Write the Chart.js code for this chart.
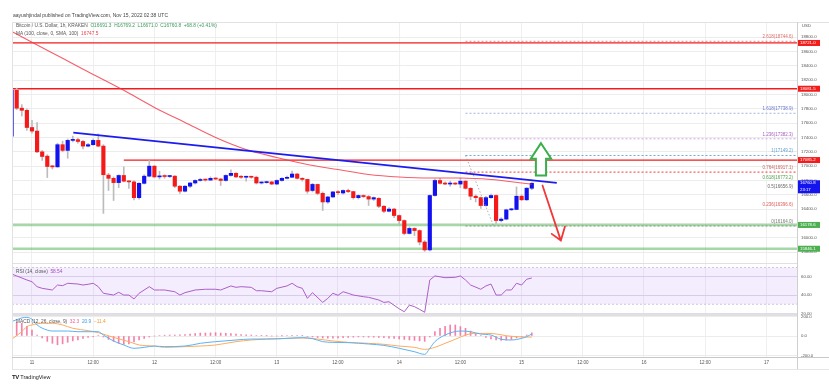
<!DOCTYPE html>
<html>
<head>
<meta charset="utf-8">
<title>BTCUSD 1h</title>
<script src="https://cdn.jsdelivr.net/npm/chart.js@4.4.1/dist/chart.umd.min.js"></script>
<style>
  body { margin: 0; width: 829px; height: 392px; background: #fff; overflow: hidden; position: relative; font-family: "Liberation Sans", Arial, sans-serif; }
  canvas { position: absolute; left: 0; top: 0; }
  .txt { position: absolute; white-space: nowrap; line-height: 1; color: #555; font-size: 4.8px; }
  .ln { position: absolute; }
</style>
</head>
<body>
<canvas id="price" width="829" height="392"></canvas>
<canvas id="rsi" width="829" height="392"></canvas>
<canvas id="macd" width="829" height="392"></canvas>

<!-- frame and pane separators -->
<div class="ln" style="left:12px;top:21.5px;width:817px;height:1px;background:#e2e2e2"></div>
<div class="ln" style="left:12px;top:22px;width:1px;height:347px;background:#e2e2e2"></div>
<div class="ln" style="left:12px;top:369px;width:817px;height:1px;background:#e6e6e6"></div>
<div class="ln" style="left:12px;top:262.5px;width:785px;height:1.5px;background:#e0e0e0"></div>
<div class="ln" style="left:12px;top:313.5px;width:785px;height:2px;background:#e0e0e0"></div>
<div class="ln" style="left:12px;top:356.5px;width:817px;height:1.5px;background:#c8c8c8"></div>
<div class="ln" style="left:796.5px;top:22px;width:1px;height:347px;background:#cfcfcf"></div>

<div class="txt" style="left:13px;top:12.5px;font-size:5px;color:#444">aayushjindal published on TradingView.com, Nov 15, 2022 02:38 UTC</div>
<div class="txt" style="left:16px;top:24px">Bitcoin / U.S. Dollar, 1h, KRAKEN&nbsp; <span style="color:#3a9a5a">O16691.3&nbsp; H16769.2&nbsp; L16671.0&nbsp; C16760.8&nbsp; +68.8 (+0.41%)</span></div>
<div class="txt" style="left:16px;top:31.5px">MA (100, close, 0, SMA, 100)&nbsp; <span style="color:#f0414b">16747.5</span></div>
<div class="txt" style="left:802px;top:24px;font-size:4.3px">USD</div>
<div class="txt" style="left:16px;top:269.5px">RSI (14, close)&nbsp; <span style="color:#a24fc0">58.54</span></div>
<div class="txt" style="left:16px;top:320px">MACD (12, 26, close, 9)&nbsp; <span style="color:#ef5b92">32.3</span>&nbsp; <span style="color:#3d9be9">20.9</span>&nbsp; <span style="color:#f7932f">&minus;11.4</span></div>
<div class="txt" style="left:12px;top:374px;font-size:5.5px;color:#222"><b style="font-size:6px;letter-spacing:-0.4px">TV</b> TradingView</div>

<script>
const FONT = '"Liberation Sans", Arial, sans-serif';

// time axis in hours from 11 Nov 2022 00:00 UTC, one candle per hour
const firstHour = -4;
const tickHours = [0, 12, 24, 36, 48, 60, 72, 84, 96, 108, 120, 132, 144];
const tickLabels = ['11', '12:00', '12', '12:00', '13', '12:00', '14', '12:00', '15', '12:00', '16', '12:00', '17'];

// BTC/USD hourly candles, 10 Nov 20:00 .. 15 Nov 02:00
const opens = [
  17420, 18060, 17810, 17780, 17540, 17490, 17200, 17140, 16995, 16990,
  17300, 17220, 17360, 17370, 17345, 17280, 17300, 17360, 17280, 16875,
  16830, 16770, 16870, 16790, 16780, 16560, 16760, 16860, 17000, 16850,
  16860, 16855, 16860, 16720, 16650, 16720, 16765, 16800, 16810, 16805,
  16830, 16820, 16800, 16870, 16900, 16850, 16845, 16850, 16845, 16765,
  16770, 16780, 16750, 16800, 16830, 16845, 16890, 16830, 16815, 16660,
  16745, 16620, 16500, 16570, 16640, 16625, 16660, 16645, 16560, 16590,
  16575, 16540, 16550, 16440, 16370, 16400, 16310, 16240, 16060, 16130,
  16100, 15940, 15830, 16590, 16800, 16760, 16750, 16760, 16750, 16790,
  16690, 16580, 16560, 16450, 16560, 16590, 16240, 16260, 16390, 16395,
  16580, 16530, 16691.3
];
const highs = [
  18080, 18090, 17860, 17800, 17640, 17610, 17220, 17160, 17010, 17320,
  17350, 17380, 17420, 17390, 17360, 17320, 17380, 17450, 17300, 16900,
  16850, 16880, 16990, 16800, 16800, 16770, 16880, 17080, 17010, 16930,
  16880, 16870, 16870, 16730, 16730, 16770, 16810, 16830, 16820, 16850,
  16840, 16830, 16880, 16950, 16910, 16870, 16860, 16860, 16860, 16780,
  16790, 16790, 16810, 16840, 16860, 16930, 16900, 16840, 16820, 16760,
  16750, 16640, 16580, 16650, 16660, 16670, 16680, 16650, 16600, 16600,
  16590, 16570, 16560, 16450, 16420, 16410, 16320, 16250, 16150, 16140,
  16110, 15960, 16600, 16820, 16830, 16780, 16790, 16770, 16830, 16800,
  16700, 16600, 16570, 16580, 16610, 16600, 16280, 16400, 16410, 16710,
  16600, 16700, 16769.2
];
const lows = [
  17400, 17790, 17700, 17500, 17460, 17190, 17080, 16840, 16960, 16985,
  17200, 17110, 17340, 17320, 17240, 17270, 17290, 17270, 16340, 16660,
  16520, 16700, 16780, 16690, 16530, 16540, 16750, 16850, 16840, 16820,
  16830, 16840, 16700, 16620, 16640, 16700, 16750, 16790, 16790, 16800,
  16810, 16730, 16790, 16860, 16840, 16830, 16790, 16830, 16750, 16750,
  16760, 16740, 16740, 16790, 16820, 16840, 16820, 16790, 16620, 16640,
  16600, 16380, 16480, 16560, 16600, 16610, 16630, 16540, 16540, 16560,
  16450, 16520, 16420, 16350, 16360, 16280, 16190, 16040, 16050, 16030,
  15900, 15810, 15815, 16580, 16750, 16740, 16720, 16740, 16700, 16680,
  16530, 16500, 16410, 16440, 16550, 16200, 16220, 16250, 16380, 16390,
  16520, 16520, 16671.0
];
const closes = [
  18060, 17810, 17780, 17540, 17490, 17200, 17135, 16995, 16990, 17300,
  17220, 17360, 17370, 17345, 17280, 17300, 17360, 17280, 16880, 16830,
  16770, 16870, 16790, 16780, 16560, 16760, 16860, 17000, 16850, 16860,
  16855, 16860, 16720, 16650, 16720, 16765, 16800, 16810, 16805, 16830,
  16820, 16800, 16870, 16900, 16850, 16845, 16850, 16845, 16765, 16770,
  16775, 16750, 16800, 16830, 16840, 16890, 16830, 16815, 16650, 16745,
  16620, 16500, 16570, 16640, 16630, 16660, 16645, 16560, 16590, 16575,
  16540, 16560, 16440, 16370, 16400, 16310, 16240, 16060, 16130, 16100,
  15940, 15830, 16590, 16800, 16760, 16750, 16760, 16750, 16790, 16690,
  16580, 16560, 16450, 16560, 16590, 16240, 16260, 16390, 16395, 16580,
  16530, 16692.0, 16760.8
];

// MA(100): [hour, price]
const maPoints = [[-4, 18884], [0, 18730], [6, 18506], [12, 18282], [18, 18059], [24, 17821],
  [30, 17611], [36, 17401], [42, 17233], [48, 17121], [54, 17023], [60, 16953], [66, 16883],
  [72, 16848], [78, 16834], [84, 16834], [90, 16813], [96, 16764], [98, 16747.5]];

// drawn levels
const trendLine = [[8.1, 17467], [102.9, 16765]];
const resistancePrices = [18721.0, 18081.5, 17085.2];
const supportPrices = [16178.6, 15846.1];
const fibLevels = ['2.618', '1.618', '1.236', '1', '0.764', '0.618', '0.5', '0.236', '0'];
const fibPrices = [18744.6, 17738.9, 17382.3, 17149.2, 16917.1, 16773.2, 16656.9, 16396.6, 16164.0];
const fibSwing = [[85, 17149.2], [90.5, 16164.0]];
const priceTicks = [15800, 16000, 16200, 16400, 16600, 16800, 17000, 17200, 17400, 17600, 17800, 18000, 18200, 18400, 18600, 18800];
const lastClose = 16760.8;
const countdown = '23:17';

// RSI(14): [hour, value]
const rsiPoints = [[-4, 62.9], [-3, 60.8], [-1, 56.4], [0, 54.5], [1, 49.1], [2, 47.3], [4, 45.5], [5, 50.9],
  [6, 50.2], [7, 52.8], [9, 52.0], [10, 50.9], [11, 51.7], [12, 52.8], [13, 49.1], [14, 41.9], [16, 40.0],
  [17, 43.0], [18, 40.0], [19, 40.0], [20, 35.7], [21, 41.9], [23, 49.1], [24, 45.5], [25, 45.5], [26, 45.5],
  [28, 43.6], [29, 40.0], [30, 42.6], [32, 45.5], [34, 46.3], [36, 46.3], [37, 45.5], [39, 49.9], [40, 48.4],
  [41, 49.1], [43, 48.4], [44, 44.7], [45, 44.7], [47, 43.6], [48, 47.3], [50, 49.9], [51, 52.8], [52, 49.1],
  [53, 47.3], [54, 36.4], [55, 42.6], [57, 32.0], [58, 36.4], [59, 41.9], [60, 39.7], [61, 43.6], [62, 41.9],
  [63, 40.0], [65, 38.2], [66, 37.5], [68, 34.6], [69, 32.0], [70, 32.7], [72, 25.0], [73, 21.8], [74, 29.1],
  [75, 27.3], [76, 24.4], [77, 21.2], [78, 56.4], [79, 60.8], [81, 58.9], [83, 59.3], [84, 60.8], [85, 56.4],
  [86, 50.9], [88, 46.3], [89, 49.9], [90, 52.0], [91, 40.0], [92, 40.0], [93, 45.5], [94, 45.5], [95, 52.8],
  [96, 50.9], [97, 57.2], [98, 58.54]];
const rsiBand = [70, 30];
const rsiTicks = [20, 40, 60];

// MACD(12, 26, 9)
const macdPoints = [[-4, 147], [-2, 185], [-1, 191], [0, 171], [1, 113], [3, 60], [4, 51], [7, 51], [9, 44],
  [11, 44], [13, 44], [14, 10], [16, -51], [18, -92], [20, -126], [22, -116], [24, -103], [26, -109], [30, -103],
  [33, -75], [36, -58], [40, -41], [43, -31], [46, -31], [49, -27], [53, -17], [55, -27], [57, -58], [59, -65],
  [62, -68], [66, -82], [69, -96], [72, -126], [75, -161], [77, -188], [78, -126], [79, -58], [81, 10], [84, 51],
  [86, 44], [88, 20], [90, 10], [92, -34], [94, -41], [96, -24], [97, -7], [98, 20.9]];
const signalPoints = [[-4, -34], [-2, 44], [-1, 96], [0, 113], [2, 130], [4, 130], [6, 113], [8, 79], [11, 55],
  [13, 34], [16, -14], [19, -58], [21, -92], [24, -103], [26, -116], [30, -109], [33, -103], [36, -92], [40, -58],
  [43, -41], [46, -31], [49, -27], [53, -20], [56, -31], [59, -51], [62, -65], [66, -75], [69, -85], [72, -103],
  [75, -116], [77, -137], [79, -116], [81, -75], [83, -34], [85, 10], [87, 27], [89, 27], [91, 21], [93, 3],
  [95, -7], [98, -11.4]];
const histValues = [
  150, 140, 130, 100,
  60, 10, -20, -55, -75, -90, -80, -65, -50, -40, -25, -15, -8,
  5, -10, -35, -55, -75, -85, -80, -60, -40, -25, -10, 0,
  5, 8, 10, 10, 12, 15, 20, 25, 30, 30, 32, 34,
  30, 28, 25, 20, 15, 12, 10, 5, 3, 2, 0, 0,
  2, 5, 6, 5, 3, -5, -10, -15, -20, -22, -22, -20,
  -18, -15, -12, -10, -10, -12, -12, -15, -18, -22, -25, -30,
  -35, -40, -45, -50, -55, -10, 44, 79, 100, 113, 113, 96,
  79, 50, 25, 5, -15, -30, -41, -45, -41, -35, -20, -10, 10, 32.3
];
const macdTicks = [-200, 0, 200];

// hand drawn arrows, in [hour, price]
const upArrow = [[99.8, 17321], [101.8, 17103], [100.8, 17103], [100.8, 16869], [98.8, 16869], [98.8, 17103], [97.8, 17103]];
const downArrow = [[100.1, 16730], [103.7, 15960], [101.9, 16054], [104.5, 16156]];

// ---- layout ----
const AREA_LEFT = 12, AREA_RIGHT = 797, W = 829, H = 392;
const xMin = -3.92, xMax = 150;
const UP = '#1212f0', DOWN = '#f51a1a';

const hours = opens.map((_, i) => firstHour + i);
const pts = arr => arr.map(([x, y]) => ({ x, y }));
const flat = (p, from) => [{ x: from, y: p }, { x: xMax, y: p }];

const base = {
  responsive: false,
  animation: false,
  events: [],
  plugins: { legend: { display: false }, tooltip: { enabled: false } }
};

function xAxis(withLabels) {
  return {
    type: 'linear', min: xMin, max: xMax, bounds: 'data', offset: false,
    afterBuildTicks: s => { s.ticks = tickHours.map(v => ({ value: v })); },
    afterFit: s => { s.height = withLabels ? 12 : 0; },
    grid: { color: '#efefef', drawTicks: false, offset: false },
    border: { display: false },
    ticks: {
      display: withLabels, autoSkip: false, maxRotation: 0, padding: 3, color: '#555',
      font: { family: FONT, size: 4.5 }, callback: (v, i) => tickLabels[i]
    }
  };
}

function yAxis(min, max, ticks, digits, gridColor) {
  return {
    position: 'right', min, max, bounds: 'data', beginAtZero: false,
    afterBuildTicks: s => { s.ticks = ticks.map(v => ({ value: v })); },
    afterFit: s => { s.width = W - AREA_RIGHT; },
    grid: { color: gridColor, drawTicks: false },
    border: { display: false },
    ticks: { padding: 4, color: '#555', font: { family: FONT, size: 4.3 }, callback: v => v.toFixed(digits) }
  };
}

const fibColors = ['#e06c6c', '#6a78c8', '#a460c0', '#5f9fcf', '#c86464', '#4ca04c', '#666666', '#e05a5a', '#777777'];
const fibLineColors = { 0: 'rgba(230,110,110,0.8)', 1: '#a9b0e0', 2: '#d2a6e2', 3: '#6fa8d6', 4: '#f03a3a', 8: '#8a9a8a' };

const priceOverlay = {
  id: 'priceOverlay',
  afterDatasetsDraw(chart) {
    const { ctx, chartArea: a, scales: { x, y } } = chart;
    const px = ([h, p]) => [x.getPixelForValue(h), y.getPixelForValue(p)];
    ctx.save();
    ctx.font = `4.5px ${FONT}`;
    ctx.textAlign = 'right';
    ctx.textBaseline = 'bottom';
    fibLevels.forEach((lv, i) => {
      ctx.fillStyle = fibColors[i];
      ctx.fillText(`${lv}(${fibPrices[i].toFixed(1)})`, a.right - 4, y.getPixelForValue(fibPrices[i]) - 2);
    });

    // green arrow up
    ctx.beginPath();
    upArrow.forEach((p, i) => { const [X, Y] = px(p); if (i) ctx.lineTo(X, Y); else ctx.moveTo(X, Y); });
    ctx.closePath();
    ctx.fillStyle = '#fff';
    ctx.fill();
    ctx.strokeStyle = '#3aae4a';
    ctx.lineWidth = 2;
    ctx.stroke();

    // red arrow down
    const [s, t, l, r] = downArrow.map(px);
    ctx.strokeStyle = '#f03838';
    ctx.lineWidth = 1.8;
    ctx.lineCap = 'round';
    ctx.beginPath();
    ctx.moveTo(s[0], s[1]); ctx.lineTo(t[0], t[1]);
    ctx.moveTo(l[0], l[1]); ctx.lineTo(t[0], t[1]); ctx.lineTo(r[0], r[1]);
    ctx.stroke();
    ctx.restore();
  },
  afterDraw(chart) {
    const { ctx, chartArea: a, scales: { y } } = chart;
    const tags = [
      ...resistancePrices.map(p => [p, '#f21c1c']),
      ...supportPrices.map(p => [p, '#4caf50']),
      [lastClose, '#1414ee']
    ];
    ctx.save();
    ctx.font = `4.3px ${FONT}`;
    ctx.textAlign = 'left';
    ctx.textBaseline = 'middle';
    tags.forEach(([p, c]) => {
      const Y = y.getPixelForValue(p);
      const two = p === lastClose;
      ctx.fillStyle = c;
      ctx.fillRect(a.right, Y - 3, 23, two ? 13 : 6);
      ctx.fillStyle = '#fff';
      ctx.fillText(p.toFixed(1), a.right + 3, Y);
      if (two) ctx.fillText(countdown, a.right + 3, Y + 6.3);
    });
    ctx.restore();
  }
};

// ---- price pane ----
new Chart(document.getElementById('price'), {
  type: 'bar',
  data: {
    datasets: [
      { type: 'line', data: pts(trendLine), borderColor: '#1c1cf0', borderWidth: 1.8, pointRadius: 0, order: 1 },
      { type: 'line', data: pts(fibSwing), borderColor: '#9a9a9a', borderWidth: 0.8, borderDash: [1.5, 2], pointRadius: 0, order: 2 },
      { type: 'line', data: pts(maPoints), borderColor: 'rgba(242,54,69,0.8)', borderWidth: 1.1, pointRadius: 0, cubicInterpolationMode: 'monotone', order: 3 },
      {
        data: hours.map((h, i) => ({ x: h, y: [opens[i], closes[i]] })),
        backgroundColor: hours.map((h, i) => closes[i] >= opens[i] ? UP : DOWN),
        barThickness: 3.5, grouped: false, minBarLength: 1, order: 4
      },
      {
        data: hours.map((h, i) => ({ x: h, y: [lows[i], highs[i]] })),
        backgroundColor: '#bcbcbc', barThickness: 1, grouped: false, order: 5
      },
      ...resistancePrices.map((p, i) => ({
        type: 'line', data: flat(p, i === 2 ? 18 : xMin), borderColor: '#f21c1c', borderWidth: 1.3, pointRadius: 0, order: 6
      })),
      ...supportPrices.map(p => ({
        type: 'line', data: flat(p, xMin), borderColor: 'rgba(76,175,80,0.5)', borderWidth: 2.5, pointRadius: 0, order: 7
      })),
      ...Object.keys(fibLineColors).map(k => ({
        type: 'line', data: flat(fibPrices[k], 85), borderColor: fibLineColors[k], borderWidth: 1, borderDash: [2, 2], pointRadius: 0, order: 6
      }))
    ]
  },
  options: {
    ...base,
    layout: { padding: { left: AREA_LEFT, right: 0, top: 22, bottom: H - 263 } },
    scales: { x: xAxis(false), y: yAxis(15647, 19014, priceTicks, 1, '#ececec') }
  },
  plugins: [priceOverlay]
});

// ---- RSI pane ----
new Chart(document.getElementById('rsi'), {
  type: 'line',
  data: {
    datasets: [
      { data: pts(rsiPoints), borderColor: '#ad5fc6', borderWidth: 1, pointRadius: 0, order: 1 },
      { data: flat(rsiBand[0], xMin), borderColor: '#cbb8e4', borderWidth: 0.8, borderDash: [2, 2], pointRadius: 0, fill: '+1', backgroundColor: 'rgba(160,105,235,0.12)', order: 3 },
      { data: flat(rsiBand[1], xMin), borderColor: '#cbb8e4', borderWidth: 0.8, borderDash: [2, 2], pointRadius: 0, fill: false, order: 3 }
    ]
  },
  options: {
    ...base,
    layout: { padding: { left: AREA_LEFT, right: 0, top: 264, bottom: H - 313.4 } },
    scales: { x: xAxis(false), y: yAxis(20, 73.8, rsiTicks, 2, '#e2d9ee') }
  }
});

// ---- MACD pane ----
new Chart(document.getElementById('macd'), {
  type: 'bar',
  data: {
    datasets: [
      { type: 'line', data: pts(macdPoints), borderColor: '#5ab2f4', borderWidth: 1, pointRadius: 0, cubicInterpolationMode: 'monotone', order: 1 },
      { type: 'line', data: pts(signalPoints), borderColor: '#ffab5e', borderWidth: 1, pointRadius: 0, cubicInterpolationMode: 'monotone', order: 2 },
      { data: hours.map((h, i) => ({ x: h, y: histValues[i] })), backgroundColor: 'rgba(242,98,150,0.8)', barThickness: 1, grouped: false, order: 3 }
    ]
  },
  options: {
    ...base,
    layout: { padding: { left: AREA_LEFT, right: 0, top: 315, bottom: H - 357 - 12 } },
    scales: { x: xAxis(true), y: yAxis(-215, 215, macdTicks, 1, '#ececec') }
  }
});
</script>
</body>
</html>
